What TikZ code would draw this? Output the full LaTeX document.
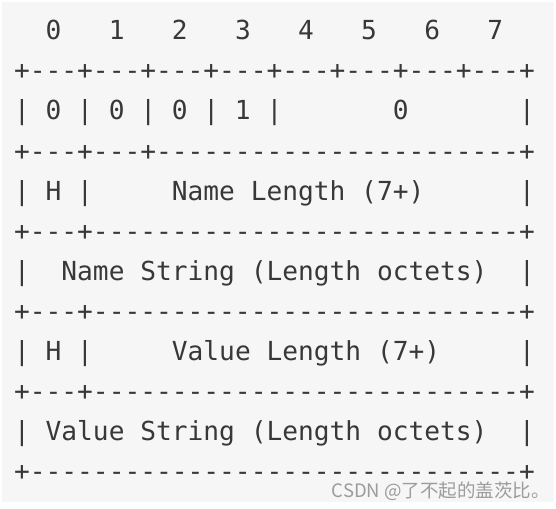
\documentclass[tikz,border=0pt]{standalone}
\usepackage{fontspec}
\setmonofont{DejaVu Sans Mono}[WordSpace={1,0,0}]
\newfontfamily\cjkwm{Noto Sans CJK SC}
\definecolor{bggray}{HTML}{F6F6F6}
\definecolor{txtgray}{HTML}{383838}
\definecolor{wmgray}{HTML}{9C9C9C}
\newcommand\rdash[1]{\foreach \i in {1,...,#1}{-\kern0pt}}
\begin{document}
\begin{tikzpicture}[x=1pt,y=1pt,
  asciirow/.style={anchor=base west,inner sep=0pt,outer sep=0pt,text=txtgray,
    font=\ttfamily\fontsize{26.21}{26.21}\selectfont},
  watermark/.style={anchor=base east,inner sep=0pt,text=wmgray,
    font=\cjkwm\fontsize{18.5}{18.5}\selectfont}]
\useasboundingbox (0,0) rectangle (556,-508);
\fill[white] (0,0) rectangle (556,-508);
\fill[bggray] (2,-2) rectangle (554,-502);
\node[asciirow] (r0)  at (14.1,-40)  {~~0~~~1~~~2~~~3~~~4~~~5~~~6~~~7};
\node[asciirow] (r1)  at (14.1,-80)  {+\rdash{3}+\rdash{3}+\rdash{3}+\rdash{3}+\rdash{3}+\rdash{3}+\rdash{3}+\rdash{3}+};
\node[asciirow] (r2)  at (14.1,-120) {|~0~|~0~|~0~|~1~|~~~~~~~0~~~~~~~|};
\node[asciirow] (r3)  at (14.1,-160) {+\rdash{3}+\rdash{3}+\rdash{23}+};
\node[asciirow] (r4)  at (14.1,-200) {|~H~|~~~~~Name~Length~(7+)~~~~~~|};
\node[asciirow] (r5)  at (14.1,-240) {+\rdash{3}+\rdash{27}+};
\node[asciirow] (r6)  at (14.1,-280) {|~~Name~String~(Length~octets)~~|};
\node[asciirow] (r7)  at (14.1,-320) {+\rdash{3}+\rdash{27}+};
\node[asciirow] (r8)  at (14.1,-360) {|~H~|~~~~~Value~Length~(7+)~~~~~|};
\node[asciirow] (r9)  at (14.1,-400) {+\rdash{3}+\rdash{27}+};
\node[asciirow] (r10) at (14.1,-440) {|~Value~String~(Length~octets)~~|};
\node[asciirow] (r11) at (14.1,-480) {+\rdash{31}+};
\node[watermark] (wm) at (550,-497) {CSDN @了不起的盖茨比。};
\end{tikzpicture}
\end{document}
